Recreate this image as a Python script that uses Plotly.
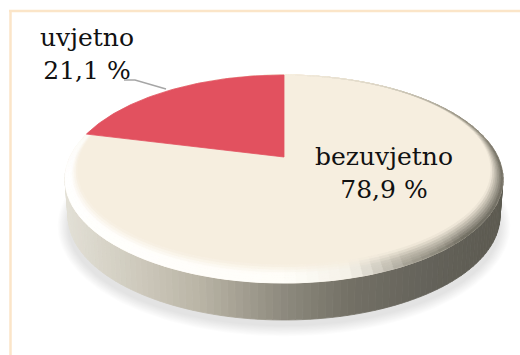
import numpy as np
import plotly.graph_objects as go

# Shares of the two sentence types
labels = ["uvjetno", "bezuvjetno"]
values = [21.1, 78.9]
slice_colors = ["#E2515F", "#F6EEDF"]

WIDTH, HEIGHT = 520, 355
CX = 284.0
APEX_Y, BACK_Y, FRONT_Y = 157.0, 75.0, 283.0
HALF_W = 219.0

# Perspective of the disc's top face
C = ((BACK_Y + FRONT_Y) - 2 * APEX_Y) / (FRONT_Y - BACK_Y)
B = BACK_Y * (1 + C) - APEX_Y
A = HALF_W * np.sqrt(1 - C * C)


def face_point(clockwise_deg):
    t = np.radians(clockwise_deg)
    u, v = np.sin(t), np.cos(t)
    d = 1 + C * v
    return CX + A * u / d, (APEX_Y + B * v) / d


def ellipse(cy, a, b, deg):
    t = np.radians(deg)
    return CX + a * np.cos(t), cy + b * np.sin(t)


def hexrgb(h):
    return np.array([int(h[i:i + 2], 16) for i in (1, 3, 5)], dtype=float)


def css(rgb):
    return "rgb(%d,%d,%d)" % tuple(np.clip(np.round(rgb), 0, 255))


def ramp(x, stops):
    xs = [s[0] for s in stops]
    rgb = np.array([hexrgb(s[1]) for s in stops])
    return np.array([np.interp(x, xs, rgb[:, i]) for i in range(3)])


fig = go.Figure()


def poly(xs, ys, fill, seam=0.8):
    fig.add_trace(go.Scatter(
        x=list(xs), y=list(ys), mode="lines", fill="toself", fillcolor=fill,
        line=dict(color=fill, width=seam), hoverinfo="skip", showlegend=False,
    ))


# Soft ground shadow
for i in range(14):
    grow = 13 - i
    deg = np.linspace(0, 360, 181)
    x, y = ellipse(226, 216 + grow * 0.8, 100 + grow * 0.8, deg)
    poly(x, y, "rgba(60,60,60,0.011)", seam=0)

# Side wall, shaded from left to right
WALL_STOPS = [(66, "#E2DFD5"), (130, "#D0CCBF"), (200, "#B9B4A5"), (280, "#8F8B7F"),
              (350, "#737065"), (430, "#64625A"), (503, "#5C5A50")]
seg = np.linspace(-5, 185, 96)
for d0, d1 in zip(seg[:-1], seg[1:]):
    x0, y0 = ellipse(179, HALF_W, 104, d0)
    x1, y1 = ellipse(179, HALF_W, 104, d1)
    x2, y2 = ellipse(216, HALF_W - 3, 104, d1)
    x3, y3 = ellipse(216, HALF_W - 3, 104, d0)
    poly([x0, x1, x2, x3, x0], [y0, y1, y2, y3, y0],
         css(ramp((x0 + x1) / 2, WALL_STOPS)))

# Cream face, drawn out to the rim
start = 360 * values[0] / sum(values)
px, py = face_point(-np.linspace(start, 360, 181))
poly(np.r_[CX, px, CX], np.r_[APEX_Y, py, APEX_Y], slice_colors[1])

# Bevel around the face: lit at the front and left, dark on the right
CREAM = hexrgb(slice_colors[1])
EDGE_STOPS = [(-90, "#F6EEDF"), (-62, "#D8D2C2"), (-35, "#8F8B7C"), (-10, "#6B685D"),
              (35, "#6A675C"), (55, "#A09C8F"), (72, "#F4F1E8"), (90, "#FFFEF9"),
              (180, "#FFFFFF"), (225, "#FBF8F1"), (270, "#F6EEDF")]
ring_edges = np.linspace(0, 1, 8)
seg = np.linspace(-90, 270, 121)
for k0, k1 in zip(ring_edges[:-1], ring_edges[1:]):
    for d0, d1 in zip(seg[:-1], seg[1:]):
        cy0, a0, b0 = 170 + 9 * k0, 207 + 12 * k0, 95 + 9 * k0
        cy1, a1, b1 = 170 + 9 * k1, 207 + 12 * k1, 95 + 9 * k1
        x0, y0 = ellipse(cy0, a0, b0, d0)
        x1, y1 = ellipse(cy0, a0, b0, d1)
        x2, y2 = ellipse(cy1, a1, b1, d1)
        x3, y3 = ellipse(cy1, a1, b1, d0)
        d_mid = (d0 + d1) / 2
        edge = ramp(d_mid, EDGE_STOPS)
        k = (k0 + k1) / 2
        # lit part reaches its peak halfway across, shaded part deepens steadily
        lit = np.clip((d_mid - 45) / 30, 0, 1)
        t = lit * min(1, k * 1.9) + (1 - lit) * k
        poly([x0, x1, x2, x3, x0], [y0, y1, y2, y3, y0], css(CREAM + (edge - CREAM) * t))

# Red slice, measured counter-clockwise from twelve o'clock
px, py = face_point(-np.linspace(0, start, 91))
poly(np.r_[CX, px, CX], np.r_[APEX_Y, py, APEX_Y], slice_colors[0])

# Leader line of the small slice
fig.add_trace(go.Scatter(
    x=[124, 135, 166], y=[80, 80, 89], mode="lines",
    line=dict(color="#A6A6A6", width=1.5), hoverinfo="skip", showlegend=False,
))


def share(v):
    return f"{v:.1f}".replace(".", ",") + " %"


# Slice captions
for name, v, x, y in zip(labels, values, [87, 384], [54, 173]):
    fig.add_annotation(
        x=x, y=y, xref="x", yref="y", showarrow=False,
        text=f"{name}<br>{share(v)}", align="center",
        font=dict(family="DejaVu Serif", size=25, color="#111111"),
    )

FRAME = "#FBE5C8"
fig.update_layout(
    width=WIDTH, height=HEIGHT, margin=dict(l=0, r=0, t=0, b=0),
    paper_bgcolor="white", plot_bgcolor="white",
    xaxis=dict(range=[0, WIDTH], visible=False, fixedrange=True),
    yaxis=dict(range=[HEIGHT, 0], visible=False, fixedrange=True),
    shapes=[
        dict(type="line", xref="x", yref="y", x0=9, x1=WIDTH, y0=11, y1=11,
             line=dict(color=FRAME, width=2.5)),
        dict(type="line", xref="x", yref="y", x0=10.5, x1=10.5, y0=10, y1=HEIGHT,
             line=dict(color=FRAME, width=2.5)),
    ],
)
fig.write_html("out.html", config=dict(displayModeBar=False))
